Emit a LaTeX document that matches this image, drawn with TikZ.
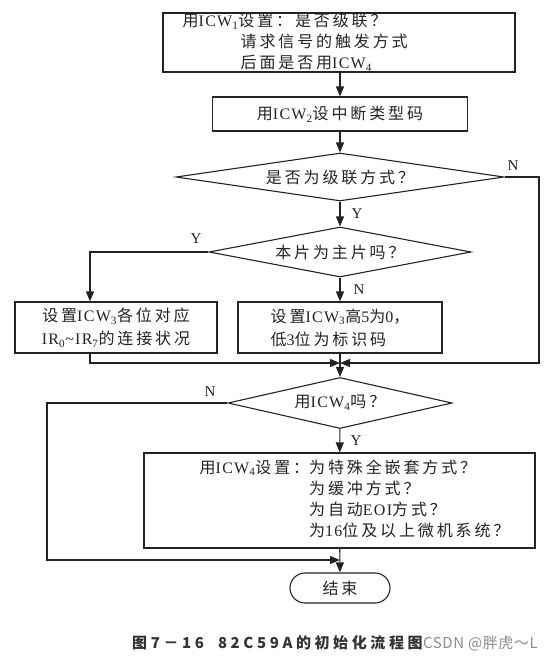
\documentclass[tikz,border=0pt]{standalone}
\usepackage{fontspec}
\setmainfont{Noto Sans CJK SC}[LetterSpace=18]
\newfontfamily\lt{Liberation Serif}[LetterSpace=8]
\newfontfamily\capf{Noto Sans CJK SC}[LetterSpace=24]
\newfontfamily\wmf{Noto Sans CJK SC}[LetterSpace=4]
\usetikzlibrary{shapes.geometric,arrows.meta,calc}
\newcommand\ICW[1]{{\lt ICW\textsubscript{#1}}}
\newcommand\IRx[1]{{\lt IR\textsubscript{#1}}}
\newcommand\lat[1]{{\lt #1}}
\definecolor{ink}{RGB}{35,35,35}
\tikzset{
  ln/.style={draw=ink, line width=1.1pt},
  arr/.style={ln, -{Triangle[length=10pt,width=8pt]}},
  box/.style={draw=ink, line width=1.1pt, rectangle, inner sep=0pt, align=center,
    text=ink, font=\fontsize{16}{23}\selectfont},
  dia/.style={draw=ink, line width=1.1pt, diamond, inner sep=0pt},
  txt/.style={text=ink, inner sep=0pt, font=\fontsize{16}{21}\selectfont},
  yn/.style={text=ink, inner sep=0pt, font=\lt\fontsize{15}{15}\selectfont},
}
\begin{document}
\begin{tikzpicture}[x=1pt,y=-1pt]
\useasboundingbox (0,0) rectangle (554,664);
% boxes
\node[box, minimum width=352pt, minimum height=59pt] (b1) at (339,42.5) {};
\node[txt, anchor=west, align=left] (t1) at ([xshift=20pt]b1.west)
  {用\ICW{1}设置：是否级联？\\\hspace*{58pt}请求信号的触发方式\\\hspace*{58pt}后面是否用\ICW{4}};
\node[box, minimum width=255pt, minimum height=34pt] (b2) at (340,114) {用\ICW{2}设中断类型码};
\node[dia, minimum width=328pt, minimum height=48pt] (d1) at (340,177) {};
\node[txt] (t2) at (d1) {是否为级联方式？};
\node[dia, minimum width=262pt, minimum height=50pt] (d2) at (340,252) {};
\node[txt] (t3) at (d2) {本片为主片吗？};
\node[box, minimum width=202pt, minimum height=51pt] (b3) at (116,327.5)
  {设置\ICW{3}各位对应\\\IRx{0}{\lt\textasciitilde}\IRx{7}的连接状况};
\node[box, minimum width=204pt, minimum height=51pt, align=left] (b4) at (340,327.5)
  {设置\ICW{3}高\lat{5}为\lat{0}，\\低\lat{3}位为标识码};
\node[dia, minimum width=224pt, minimum height=51pt] (d3) at (340,403) {};
\node[txt] (t4) at (d3) {用\ICW{4}吗？};
\node[box, minimum width=391pt, minimum height=95pt] (b5) at (339.5,500.5) {};
\node[txt, anchor=west] (t5) at ([xshift=56pt]b5.west)
  {\begin{tabular}{@{}l@{}l@{}}用\ICW{4}设置：&为特殊全嵌套方式？\\&为缓冲方式？\\&为自动\lat{EOI}方式？\\&为\lat{16}位及以上微机系统？\end{tabular}};
\node[box, minimum width=100pt, minimum height=30pt, rounded corners=15pt] (e) at (340,588) {结束};
% helper coordinates
\coordinate (lx) at (90,0);
\coordinate (rx) at (539,0);
\coordinate (llx) at (47,0);
\coordinate (m1) at (340,363);
\coordinate (m2) at (340,560);
% connectors
\draw[arr] (b1.south -| b2.north) -- (b2);
\draw[arr] (b2) -- (d1);
\draw[arr] (d1) -- (d2);
\draw[arr] (d2.west) -| (b3.north -| lx);
\draw[arr] (d2) -- (b4);
\draw[arr] (b3.south -| lx) |- (m1);
\draw[arr] (d1.east) -| (rx |- m1) -- (m1);
\draw[arr] (b4) -- (d3);
\draw[arr] (d3) -- (b5);
\draw[arr] (d3.west) -| (llx |- m2) -- (m2);
\draw[arr] (b5) -- (e);
% labels
\node[yn] (lN1) at (513,166) {N};
\node[yn] (lY1) at (357,214) {Y};
\node[yn] (lY2) at (196,239) {Y};
\node[yn] (lN2) at (359,290) {N};
\node[yn] (lN3) at (210,392) {N};
\node[yn] (lY3) at (356,441) {Y};
% caption
\node[inner sep=0pt, anchor=west, text=black!80, font=\capf\bfseries\fontsize{15}{15}\selectfont] (cap) at (132,643) {图7－16\hspace{14pt}82C59A的初始化流程图};
\node[inner sep=0pt, anchor=west, text=black!45, font=\wmf\fontsize{15}{15}\selectfont] (wm) at (cap.east) {CSDN @胖虎～L};
\end{tikzpicture}
\end{document}
